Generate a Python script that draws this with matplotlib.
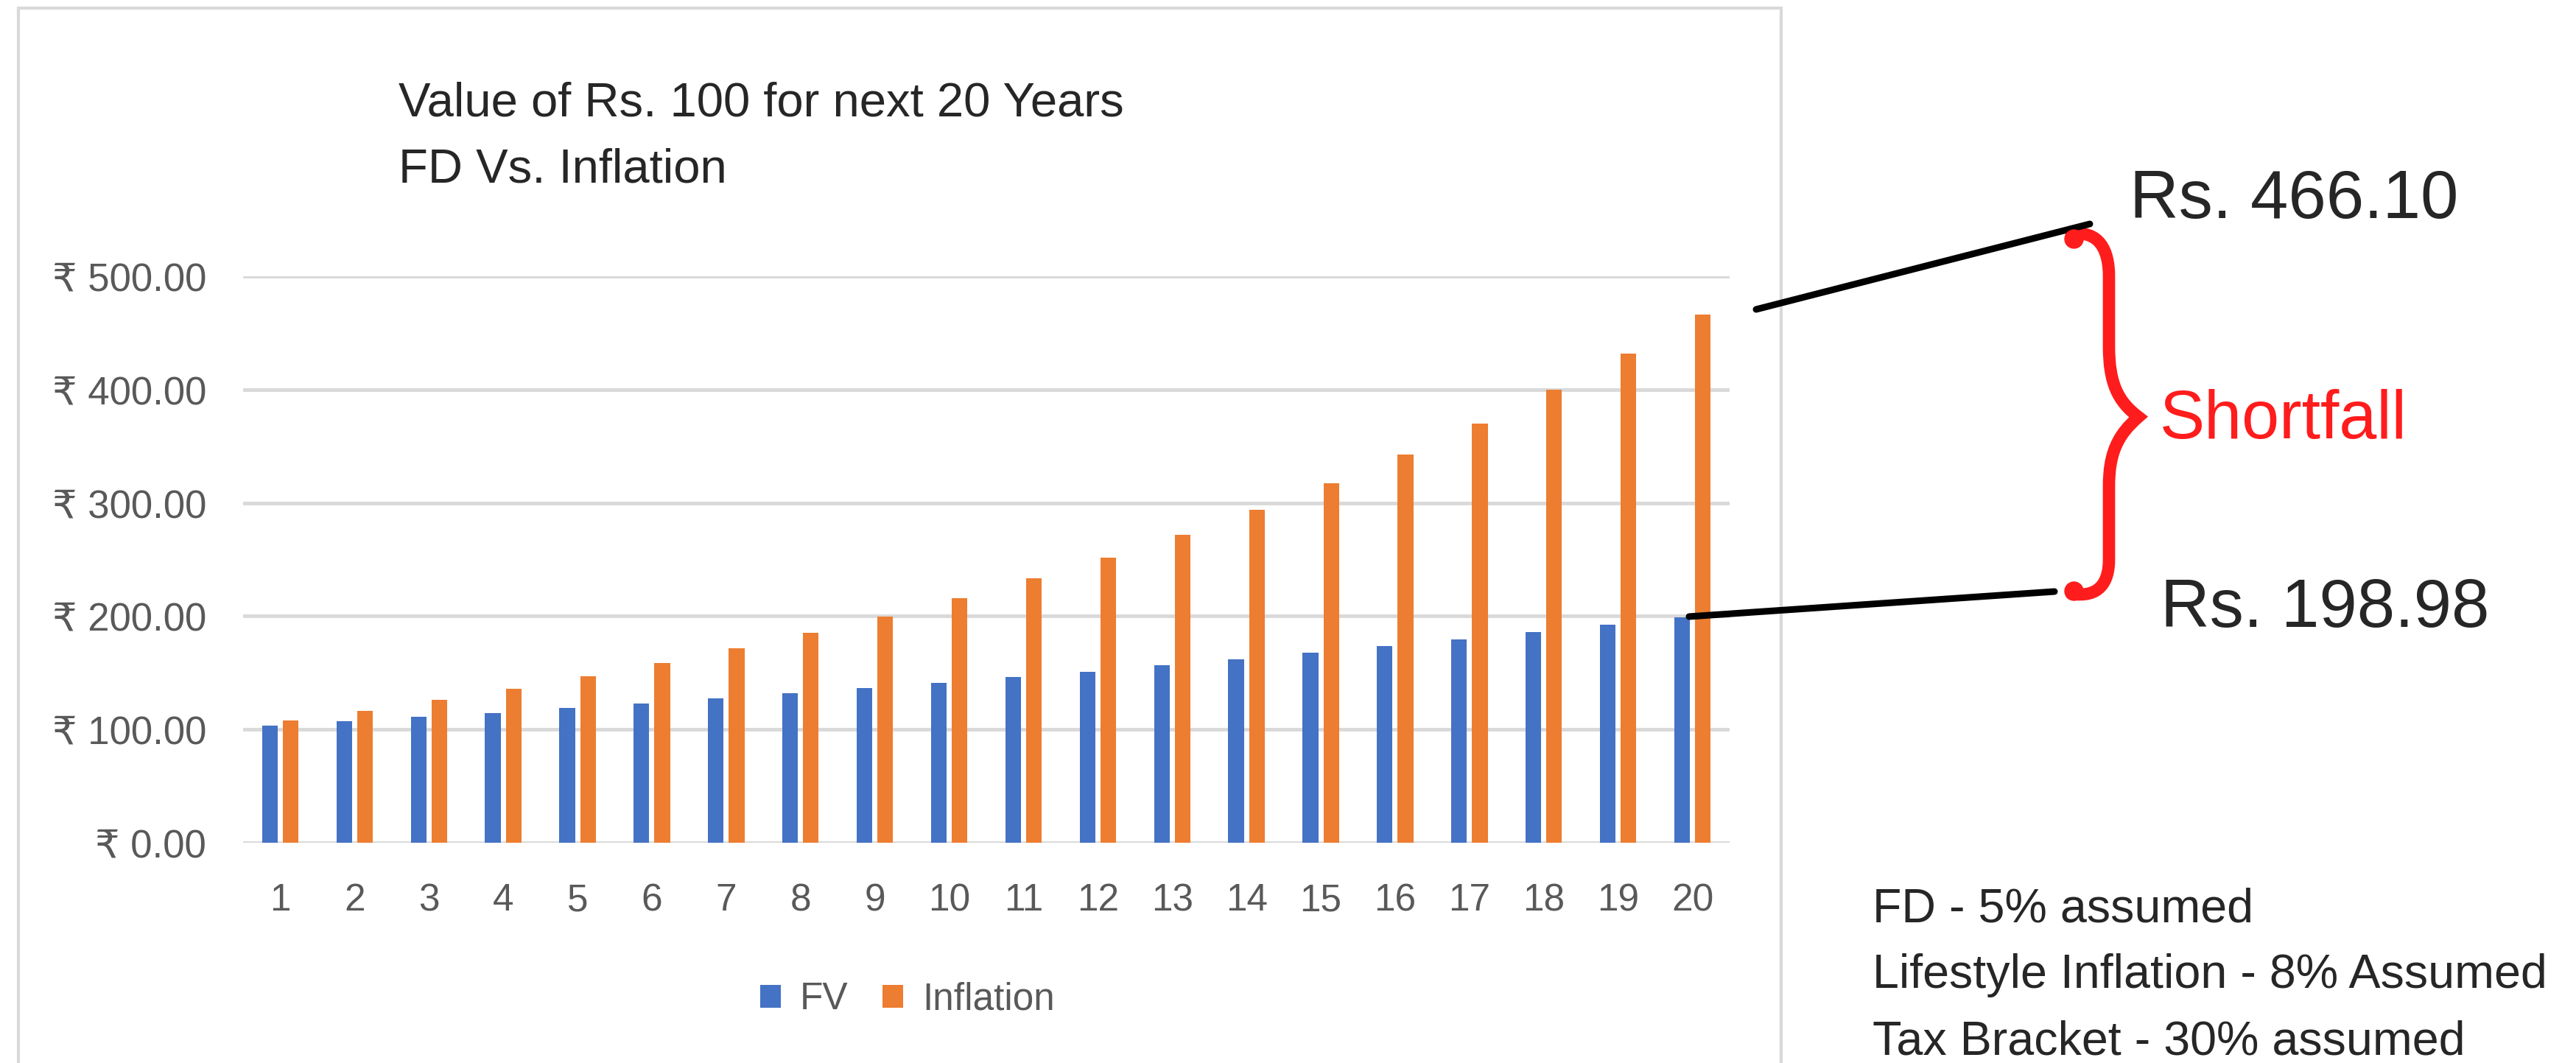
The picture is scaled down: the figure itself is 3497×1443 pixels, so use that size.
import matplotlib
matplotlib.use("Agg")
from matplotlib import pyplot as plt
from matplotlib.path import Path
from matplotlib.patches import PathPatch, Rectangle
from matplotlib.lines import Line2D

# values of Rs. 100 over 20 years
years = list(range(1, 21))
fv = [103.50, 107.12, 110.87, 114.75, 118.77, 122.93, 127.23, 131.68, 136.29, 141.06,
      146.00, 151.11, 156.40, 161.87, 167.53, 173.40, 179.47, 185.75, 192.25, 198.98]
inflation = [108.00, 116.64, 125.97, 136.05, 146.93, 158.69, 171.38, 185.09, 199.90, 215.89,
             233.16, 251.82, 271.96, 293.72, 317.22, 342.59, 370.00, 399.60, 431.57, 466.10]
y_ticks = [0, 100, 200, 300, 400, 500]
series_names = ["FV", "Inflation"]
notes = ["FD - 5% assumed", "Lifestyle Inflation - 8% Assumed", "Tax Bracket - 30% assumed"]

W, H = 3497, 1443
plt.rcParams['font.family'] = ['Liberation Sans', 'DejaVu Sans']

def fx(x):
    return x / W

def fy(y):
    return 1 - y / H

fig = plt.figure(figsize=(W / 100, H / 100), dpi=100)

# chart frame like the excel chart area
fig.patches.append(Rectangle((fx(25), fy(1460)), fx(2418) - fx(25), fy(11) - fy(1460),
                             transform=fig.transFigure, fill=False, edgecolor="#D9D9D9", linewidth=3))

ax = fig.add_axes([fx(330), fy(1144), fx(2348) - fx(330), fy(375) - fy(1144)])
blue = "#4472C4"
orange = "#ED7D31"
off = 0.14
bw = 0.21
b1 = ax.bar([y - off for y in years], fv, width=bw, color=blue, label=series_names[0], zorder=3)
b2 = ax.bar([y + off for y in years], inflation, width=bw, color=orange, label=series_names[1], zorder=3)

ax.set_xlim(0.5, 20.5)
ax.set_ylim(0, 500)
ax.set_yticks(y_ticks)
ax.set_yticklabels(["₹ %.2f" % v for v in y_ticks])
ax.set_xticks(years)
ax.set_xticklabels([str(y) for y in years])
ax.grid(axis="y", color="#D9D9D9", linewidth=3.5, zorder=0)
ax.set_axisbelow(True)
for s in ax.spines.values():
    s.set_visible(False)
ax.tick_params(axis="y", length=0, pad=36, labelsize=38, labelcolor="#595959")
ax.tick_params(axis="x", length=0, pad=39, labelsize=37, labelcolor="#595959")

leg = fig.legend(handles=[b1, b2], loc="center", bbox_to_anchor=(fx(1232), fy(1357)), ncol=2,
                 frameon=False, fontsize=37, handlelength=0.55, handleheight=0.55,
                 handletextpad=0.5, columnspacing=0.9)
for t in leg.get_texts():
    t.set_color("#595959")

# title
fig.text(fx(541), fy(158), "Value of Rs. 100 for next 20 Years", fontsize=47, color="#262626", va="baseline")
fig.text(fx(541), fy(248), "FD Vs. Inflation", fontsize=47, color="#262626", va="baseline")

# annotations on the right
fig.text(fx(2891), fy(296), "Rs. 466.10", fontsize=66.5, color="#262626", va="baseline")
fig.text(fx(2932), fy(595), "Shortfall", fontsize=66, color="#FF1C1C", va="baseline")
fig.text(fx(2933), fy(851), "Rs. 198.98", fontsize=66.5, color="#262626", va="baseline")

fig.lines.append(Line2D([fx(2384), fx(2837)], [fy(420), fy(304)], transform=fig.transFigure,
                        color="black", linewidth=6.5, solid_capstyle="round"))
fig.lines.append(Line2D([fx(2293), fx(2789)], [fy(837), fy(803)], transform=fig.transFigure,
                        color="black", linewidth=6.5, solid_capstyle="round"))

# curly brace
pts = [(2812, 318), (2850, 312), (2863, 340), (2863, 375),
       (2863, 470),
       (2863, 520), (2875, 545), (2903, 566),
       (2875, 590), (2863, 615), (2863, 660),
       (2863, 760),
       (2863, 790), (2850, 812), (2812, 806)]
codes = [Path.MOVETO, Path.CURVE4, Path.CURVE4, Path.CURVE4,
         Path.LINETO,
         Path.CURVE4, Path.CURVE4, Path.CURVE4,
         Path.CURVE4, Path.CURVE4, Path.CURVE4,
         Path.LINETO,
         Path.CURVE4, Path.CURVE4, Path.CURVE4]
brace = Path([(fx(x), fy(y)) for x, y in pts], codes)
fig.patches.append(PathPatch(brace, transform=fig.transFigure, fill=False,
                             edgecolor="#FF1C1C", linewidth=12, capstyle="round"))
fig.lines.append(Line2D([fx(2815), fx(2815)], [fy(324), fy(802)], transform=fig.transFigure,
                        linestyle="none", marker="o", markersize=18, color="#FF1C1C"))

# assumptions
for i, n in enumerate(notes):
    fig.text(fx(2542), fy(1252 + 89.5 * i), n, fontsize=46.5, color="#262626", va="baseline")

plt.savefig("out.png", dpi=100)
